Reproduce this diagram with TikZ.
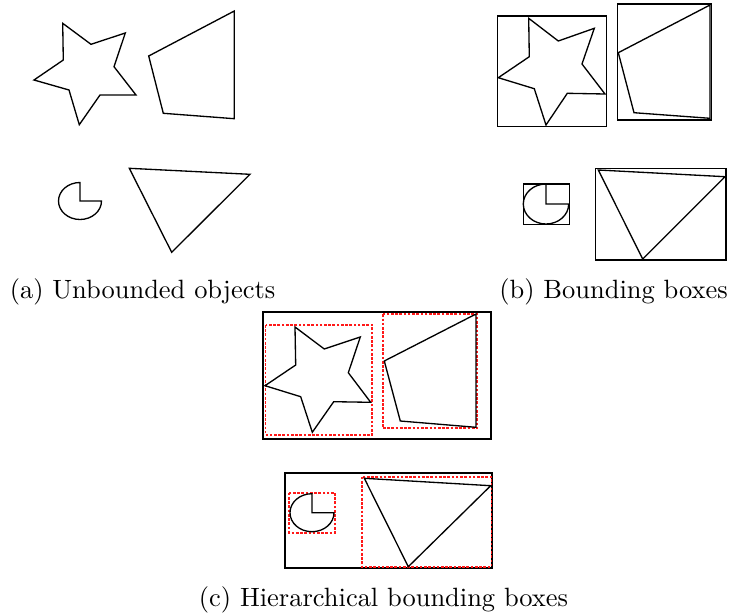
\documentclass[tikz,border=0pt]{standalone}
\begin{document}
\begin{tikzpicture}[x=0.378pt,y=-0.378pt,
  shp/.style={draw=black,line width=0.5pt,line join=miter},
  bbox/.style={draw=black,line width=0.55pt},
  obox/.style={draw=black,line width=0.9pt},
  rbox/.style={draw=red!90!white,line width=0.75pt,dash pattern=on 1pt off 0.6pt},
  captxt/.style={anchor=base,inner sep=0pt,font=\normalsize}]
\useasboundingbox (0,0) rectangle (729,614);
% (a) unbounded objects
\draw[shp] (62.7,23.3) -- (91,44.3) -- (125.3,33) -- (114,66.7) -- (136,95) -- (100,95) -- (79.3,124.7) -- (69,90) -- (34,80) -- (63.3,60) -- cycle;
\draw[shp] (148.7,56) -- (234.3,11) -- (234.3,118.7) -- (163.3,113.3) -- cycle;
\draw[shp] (80,201) -- (101.5,201) arc[start angle=0,end angle=270,x radius=21.5,y radius=18.5] -- cycle;
\draw[shp] (129.3,168.3) -- (250,174.3) -- (171.7,252.3) -- cycle;
\node[captxt] (capa) at (142.5,298.5) {(a) Unbounded objects};
% (b) bounding boxes
\draw[bbox] (497.3,16) rectangle (606.7,126.7);
\draw[shp] (528.7,18.3) -- (558.3,41) -- (594.3,28.3) -- (582,64) -- (605,94) -- (567.3,93.3) -- (546,125) -- (534.3,88.7) -- (498.3,77.7) -- (529.3,56.7) -- cycle;
\draw[bbox] (617.3,4) rectangle (711.3,120);
\draw[shp] (618.3,52.7) -- (710,5) -- (710,118.3) -- (634,112.7) -- cycle;
\draw[bbox] (523.3,184) rectangle (569.5,224.5);
\draw[shp] (546,204) -- (568.7,204) arc[start angle=0,end angle=270,x radius=22.7,y radius=20] -- cycle;
\draw[bbox] (595.7,168.7) rectangle (726,260);
\draw[shp] (598.3,170) -- (725,176.7) -- (642.7,259) -- cycle;
\node[captxt] (capb) at (613.5,298.5) {(b) Bounding boxes};
% (c) hierarchical bounding boxes
\draw[obox] (263.3,311.7) rectangle (490.7,439.3);
\draw[rbox] (265.5,325) rectangle (372.3,435);
\draw[shp] (295,327) -- (324.3,349) -- (360.3,337) -- (348.3,372.7) -- (370.7,402.3) -- (333.7,401.7) -- (312.3,432.3) -- (300.7,396.7) -- (265,385.7) -- (295.7,365) -- cycle;
\draw[rbox] (382.7,314.3) rectangle (477.3,428.3);
\draw[shp] (384.3,361) -- (476,314) -- (476,427.3) -- (400.3,421) -- cycle;
\draw[obox] (284.7,473.3) rectangle (492,568.3);
\draw[rbox] (289.3,492.7) rectangle (335,532.7);
\draw[shp] (312,512.7) -- (334,512.7) arc[start angle=0,end angle=270,x radius=22,y radius=19] -- cycle;
\draw[rbox] (361.7,476.7) rectangle (491.5,566.7);
\draw[shp] (364.3,478.3) -- (490.7,485.7) -- (408.3,566.7) -- cycle;
\node[captxt] (capc) at (383.5,606) {(c) Hierarchical bounding boxes};
\end{tikzpicture}
\end{document}
